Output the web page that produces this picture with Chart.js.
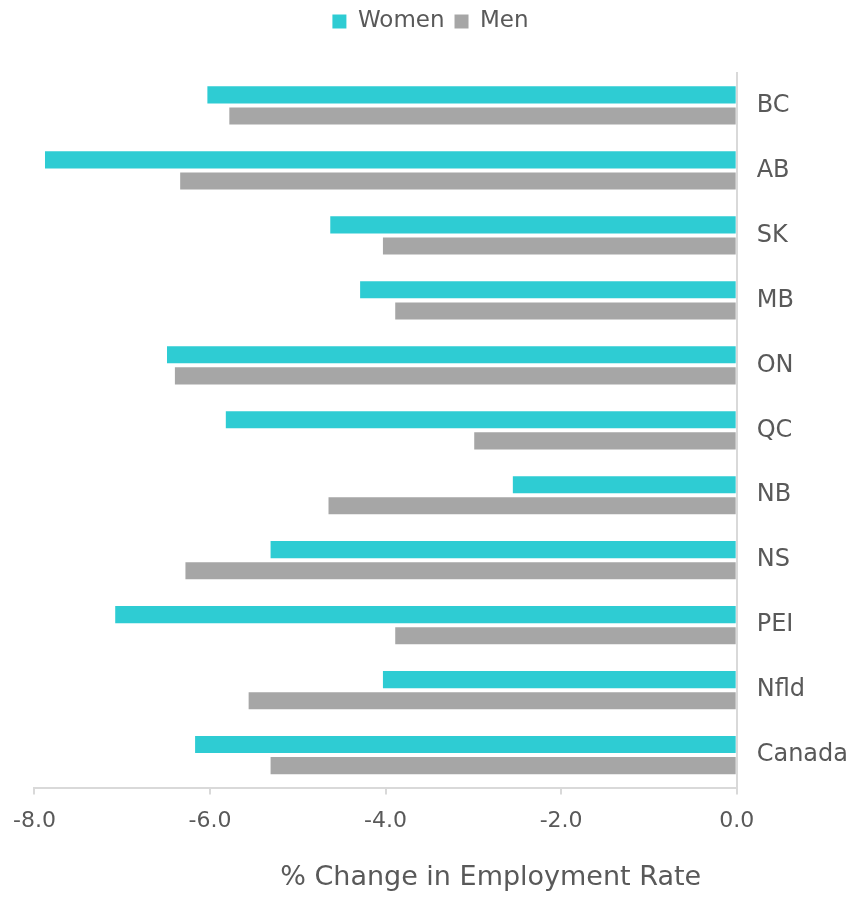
<!DOCTYPE html>
<html>
<head>
<meta charset="utf-8">
<script src="https://cdn.jsdelivr.net/npm/chart.js@4.4.1/dist/chart.umd.min.js"></script>
<style>
  html, body { margin: 0; padding: 0; background: #fff; overflow: hidden; }
  #wrap { width: 868px; height: 897px; position: relative; }
  canvas { display: block; }
</style>
</head>
<body>
<div id="wrap"><canvas id="chartEmprego"></canvas></div>
<script>
// Dados
const provincias = ['BC', 'AB', 'SK', 'MB', 'ON', 'QC', 'NB', 'NS', 'PEI', 'Nfld', 'Canada'];
const mulheres = [-6.03, -7.88, -4.63, -4.29, -6.49, -5.82, -2.55, -5.31, -7.08, -4.03, -6.17];
const homens = [-5.78, -6.34, -4.03, -3.89, -6.40, -2.99, -4.65, -6.28, -3.89, -5.56, -5.31];
const tituloX = '% Change in Employment Rate';

Chart.defaults.font.family = "'DejaVu Sans', sans-serif";
Chart.defaults.color = '#595959';

// Título do eixo X desenhado à mão (não centrado no eixo no original)
const tituloPlugin = {
    id: 'tituloX',
    afterDraw(chart) {
        const { ctx, chartArea } = chart;
        ctx.save();
        ctx.font = "27px 'DejaVu Sans', sans-serif";
        ctx.fillStyle = '#595959';
        ctx.textAlign = 'center';
        ctx.textBaseline = 'middle';
        ctx.fillText(tituloX, chartArea.right - 246, 878);
        ctx.restore();
    }
};

// Espaço extra abaixo da legenda e pequeno deslocamento à esquerda
const legendaEspaco = {
    id: 'legendaEspaco',
    beforeInit(chart) {
        const fitOrig = chart.legend.fit;
        chart.legend.fit = function () {
            fitOrig.bind(chart.legend)();
            this.height += 30;
        };
    },
    afterLayout(chart) {
        chart.legend.left -= 20;
        chart.legend.right -= 20;
    }
};

document.addEventListener('DOMContentLoaded', () => {
    const ctx = document.getElementById('chartEmprego').getContext('2d');
    new Chart(ctx, {
        type: 'bar',
        data: {
            labels: provincias,
            datasets: [
                {
                    label: 'Women',
                    data: mulheres,
                    backgroundColor: '#2ECCD3',
                    borderWidth: 0,
                    barPercentage: 0.81,
                    categoryPercentage: 0.65
                },
                {
                    label: 'Men',
                    data: homens,
                    backgroundColor: '#A6A6A6',
                    borderWidth: 0,
                    barPercentage: 0.81,
                    categoryPercentage: 0.65
                }
            ]
        },
        options: {
            indexAxis: 'y',
            responsive: true,
            maintainAspectRatio: false,
            animation: false,
            layout: { padding: { left: 33, right: 0, top: 0, bottom: 50 } },
            plugins: {
                legend: {
                    position: 'top',
                    labels: {
                        boxWidth: 14,
                        boxHeight: 14,
                        padding: 10,
                        font: { size: 23 },
                        color: '#595959'
                    }
                },
                tooltip: { enabled: false }
            },
            scales: {
                x: {
                    min: -8,
                    max: 0,
                    ticks: {
                        stepSize: 2,
                        padding: 13,
                        font: { size: 22 },
                        color: '#595959',
                        callback: v => v.toFixed(1)
                    },
                    grid: {
                        drawOnChartArea: false,
                        drawTicks: true,
                        tickLength: 7,
                        color: '#D9D9D9',
                        lineWidth: 2
                    },
                    border: { color: '#D9D9D9', width: 2 }
                },
                y: {
                    position: 'right',
                    ticks: {
                        padding: 20,
                        font: { size: 24 },
                        color: '#595959'
                    },
                    grid: { display: false, drawTicks: false },
                    border: { color: '#D9D9D9', width: 2 }
                }
            }
        },
        plugins: [tituloPlugin, legendaEspaco]
    });
});
</script>
</body>
</html>
